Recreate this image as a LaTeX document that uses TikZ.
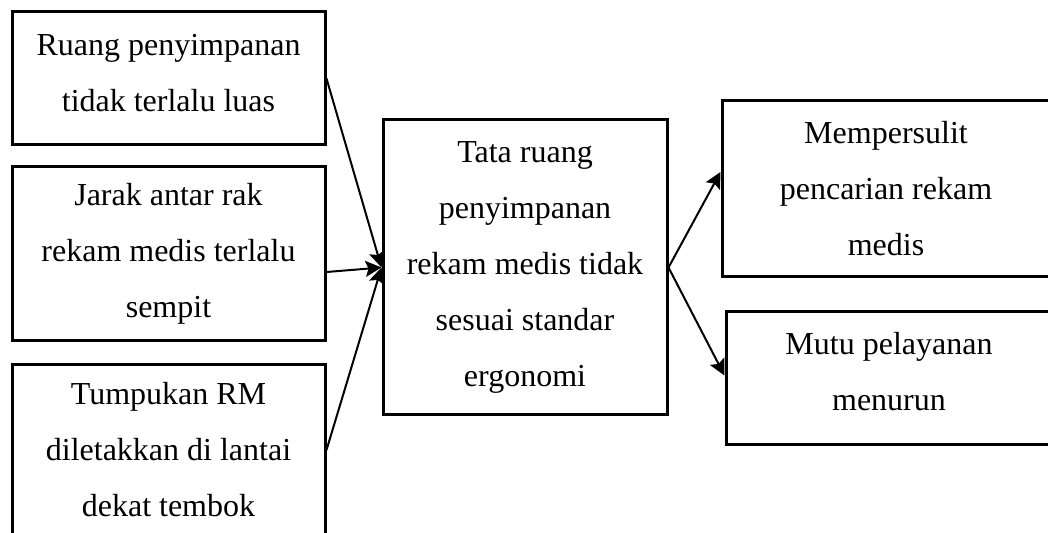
\documentclass[tikz,border=0pt]{standalone}
\usepackage{fontspec}
\setmainfont{Liberation Serif}
\usetikzlibrary{arrows.meta}

\begin{document}
\begin{tikzpicture}[x=0.5pt,y=-0.5pt,
    box/.style={draw,line width=1.5pt,inner sep=0pt,align=center,
        font=\fontsize{16}{28}\selectfont},
    arr/.style={-{Stealth[length=8pt,width=8pt,inset=1.5pt]},line width=1pt}]
    \useasboundingbox (0,0) rectangle (1048,533);
    \clip (0,0) rectangle (1048,533);
    % causes
    \node[box,minimum width=156.5pt,minimum height=66.5pt,text depth=6pt] (ruang) at (168.5,78.5)
        {Ruang penyimpanan\\tidak terlalu luas};
    \node[box,minimum width=156.5pt,minimum height=87pt] (jarak) at (168.5,254)
        {Jarak antar rak\\rekam medis terlalu\\sempit};
    \node[box,minimum width=156.5pt,minimum height=85pt] (tumpukan) at (168.5,450)
        {Tumpukan RM\\diletakkan di lantai\\dekat tembok};
    % problem
    \node[box,minimum width=142pt,minimum height=147.5pt] (tata) at (525,267.5)
        {Tata ruang\\penyimpanan\\rekam medis tidak\\sesuai standar\\ergonomi};
    % effects
    \node[box,minimum width=164pt,minimum height=88pt] (sulit) at (886,189)
        {Mempersulit\\pencarian rekam\\medis};
    \node[box,minimum width=163pt,minimum height=66.5pt,text depth=7pt] (mutu) at (889,378.5)
        {Mutu pelayanan\\menurun};
    % arrows
    \draw[arr] (ruang.east) -- (tata.west);
    \draw[arr] ([yshift=-9pt]jarak.east) -- (tata.west);
    \draw[arr] (tumpukan.east) -- (tata.west);
    \draw[arr] (tata.east) -- ([yshift=8.5pt]sulit.west);
    \draw[arr] (tata.east) -- ([yshift=1.5pt]mutu.west);
\end{tikzpicture}
\end{document}
